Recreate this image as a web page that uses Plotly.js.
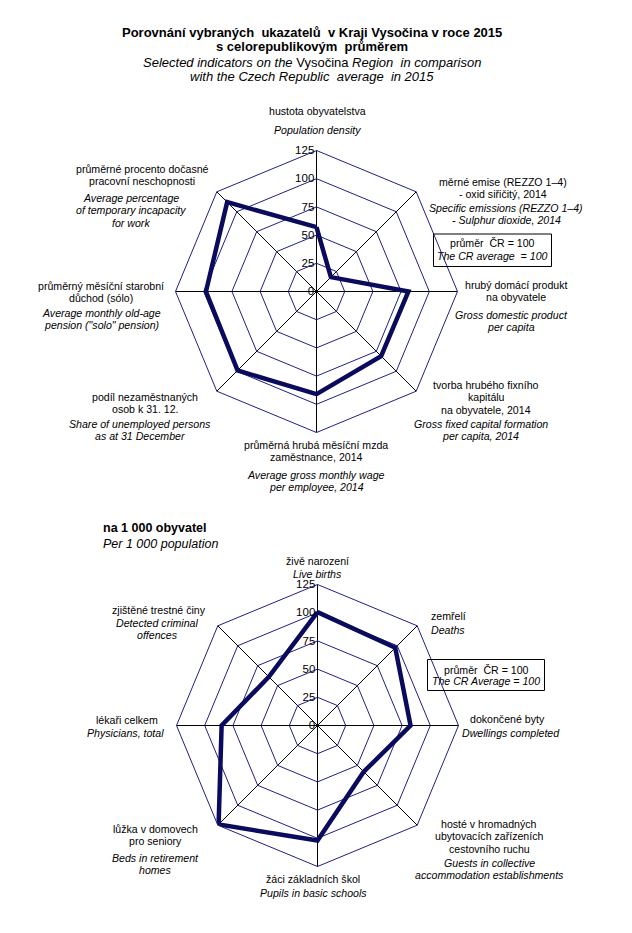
<!DOCTYPE html>
<html>
<head>
<meta charset="utf-8">
<script src="https://cdn.plot.ly/plotly-3.0.1.min.js"></script>
<style>html,body{margin:0;padding:0;background:#fff}#chart{width:632px;height:933px}</style>
</head>
<body>
<div id="chart"></div>
<script>
// ---------- DATA ----------
const cats1 = ["hustota obyvatelstva", "měrné emise SO2", "hrubý domácí produkt", "tvorba hrubého fixního kapitálu",
               "průměrná hrubá měsíční mzda", "podíl nezaměstnaných", "průměrný měsíční starobní důchod", "průměrné procento dočasné pracovní neschopnosti"];
const values1 = [57, 18, 81.5, 81, 91, 99, 98, 112];

const cats2 = ["živě narození", "zemřelí", "dokončené byty", "hosté v hromadných ubytovacích zařízeních",
               "žáci základních škol", "lůžka v domovech pro seniory", "lékaři celkem", "zjištěné trestné činy"];
const values2 = [100.5, 97.5, 82.5, 58, 102, 124, 85, 61];

const radialTicks = [0, 25, 50, 75, 100, 125];

// label texts (Czech lines, English lines) per category
const labels1Cz = [
  ["hustota obyvatelstva"],
  ["měrné emise (REZZO 1–4)", "- oxid siřičitý, 2014"],
  ["hrubý domácí produkt", "na obyvatele"],
  ["tvorba hrubého fixního", "kapitálu", "na obyvatele, 2014"],
  ["průměrná hrubá měsíční mzda", "zaměstnance, 2014"],
  ["podíl nezaměstnaných", "osob k 31. 12."],
  ["průměrný měsíční starobní", "důchod (sólo)"],
  ["průměrné procento dočasné", "pracovní neschopnosti"]
];
const labels1En = [
  ["Population density"],
  ["Specific emissions (REZZO 1–4)", "- Sulphur dioxide, 2014"],
  ["Gross domestic product", "per capita"],
  ["Gross fixed capital formation", "per capita, 2014"],
  ["Average gross monthly wage", "per employee, 2014"],
  ["Share of unemployed persons", "as at 31 December"],
  ["Average monthly old-age", "pension (\"solo\" pension)"],
  ["Average percentage", "of temporary incapacity", "for work"]
];
const labels2Cz = [
  ["živě narození"],
  ["zemřelí"],
  ["dokončené byty"],
  ["hosté v hromadných", "ubytovacích zařízeních", "cestovního ruchu"],
  ["žáci základních škol"],
  ["lůžka v domovech", "pro seniory"],
  ["lékaři celkem"],
  ["zjištěné trestné činy"]
];
const labels2En = [
  ["Live births"],
  ["Deaths"],
  ["Dwellings completed"],
  ["Guests in collective", "accommodation establishments"],
  ["Pupils in basic schools"],
  ["Beds in retirement", "homes"],
  ["Physicians, total"],
  ["Detected criminal", "offences"]
];

const title1 = "Porovnání vybraných  ukazatelů  v Kraji Vysočina v roce 2015";
const title2 = "s celorepublikovým  průměrem";
const sub1 = "<i>Selected indicators on the </i>Vysočina<i> Region  in comparison</i>";
const sub2 = "<i>with the Czech Republic  average  in 2015</i>";
const head2a = "na 1 000 obyvatel";
const head2b = "<i>Per 1 000 population</i>";
const box1 = ["průměr  ČR = 100", "<i>The CR average  = 100</i>"];
const box2 = ["průměr  ČR = 100", "<i>The CR Average = 100</i>"];

// ---------- LAYOUT (positions in px) ----------
const W = 632, H = 933;
const FONT = "Liberation Sans, Arial, sans-serif";
// [centerX, firstCzY, firstEnY, enCenterX]
const pos1 = [
  [317, 111, 130, 317],
  [503, 182, 208, 506],
  [516, 285, 315, 511],
  [486, 385, 424, 481],
  [316, 445, 475, 316],
  [145, 397, 424, 140],
  [101, 286, 313, 101],
  [142, 169, 198, 131]
];
const pos2 = [
  [317, 561, 574, 317],
  [448, 616, 630, 448],
  [508, 719, 733, 511],
  [489, 824, 863, 489],
  [313, 879, 893, 313],
  [155, 829, 858, 155],
  [127, 720, 733, 125],
  [159, 610, 623, 157]
];
const LH = 12.3;
const LBL = 10.6;

const px = x => x / W, py = y => 1 - y / H;
const annotations = [];
function ann(text, x, y, size, extra) {
  annotations.push(Object.assign({
    xref: 'paper', yref: 'paper', x: px(x), y: py(y), xanchor: 'center', yanchor: 'middle',
    showarrow: false, text: text, font: {family: FONT, size: size, color: '#000'}
  }, extra || {}));
}
function addLabels(cz, en, pos) {
  cz.forEach((lines, i) => {
    lines.forEach((t, j) => ann(t, pos[i][0], pos[i][1] + j * LH, LBL));
    en[i].forEach((t, j) => ann('<i>' + t + '</i>', pos[i][3], pos[i][2] + j * LH, LBL));
  });
}
addLabels(labels1Cz, labels1En, pos1);
addLabels(labels2Cz, labels2En, pos2);

ann('<b>' + title1 + '</b>', 312, 32, 13);
ann('<b>' + title2 + '</b>', 312, 47, 13);
ann(sub1, 312, 63, 13);
ann(sub2, 312, 77, 13);
ann('<b>' + head2a + '</b>', 101, 528, 12.5, {xanchor: 'left'});
ann(head2b, 101, 544, 12.5, {xanchor: 'left'});

ann(box1[0], 492.5, 243.5, LBL);
ann(box1[1], 492.5, 256, LBL);
ann(box2[0], 486, 669.5, LBL);
ann(box2[1], 486, 681, LBL);

const shapes = [
  {type: 'rect', xref: 'paper', yref: 'paper', x0: px(433.5), x1: px(551.5), y0: py(234), y1: py(266.5), line: {color: '#000', width: 1}},
  {type: 'rect', xref: 'paper', yref: 'paper', x0: px(427.5), x1: px(544.5), y0: py(659.5), y1: py(690.5), line: {color: '#000', width: 1}}
];

const NAVY = '#1f1f85';
const LINE = '#0b0b5e';

function polarAxes(domainX, domainY) {
  return {
    domain: {x: domainX, y: domainY},
    bgcolor: 'rgba(0,0,0,0)',
    gridshape: 'linear',
    radialaxis: {
      range: [0, 125], tickvals: radialTicks, ticktext: radialTicks.map(String),
      angle: 90, side: 'counterclockwise', tickangle: 90,
      showline: false, ticks: '', gridcolor: NAVY, gridwidth: 1,
      tickfont: {family: FONT, size: 11.5, color: '#000'}
    },
    angularaxis: {
      direction: 'clockwise', rotation: 90, showticklabels: false, ticks: '',
      gridcolor: '#000', gridwidth: 1, showline: true, linecolor: NAVY, linewidth: 1
    }
  };
}

const close = a => a.concat([a[0]]);
const traces = [
  {type: 'scatterpolar', r: close(values1), theta: close(cats1), mode: 'lines', subplot: 'polar',
   line: {color: LINE, width: 4.5}, showlegend: false, hoverinfo: 'skip'},
  {type: 'scatterpolar', r: close(values2), theta: close(cats2), mode: 'lines', subplot: 'polar2',
   line: {color: LINE, width: 4.5}, showlegend: false, hoverinfo: 'skip'}
];

const R = 141;
const C1 = [316.5, 291.5], C2 = [317.5, 725.5];
const layout = {
  width: W, height: H, margin: {l: 0, r: 0, t: 0, b: 0},
  paper_bgcolor: '#fff', showlegend: false,
  polar: polarAxes([px(C1[0] - R), px(C1[0] + R)], [py(C1[1] + R), py(C1[1] - R)]),
  polar2: polarAxes([px(C2[0] - R), px(C2[0] + R)], [py(C2[1] + R), py(C2[1] - R)]),
  annotations: annotations, shapes: shapes
};
Plotly.newPlot('chart', traces, layout, {staticPlot: true});
</script>
</body>
</html>
